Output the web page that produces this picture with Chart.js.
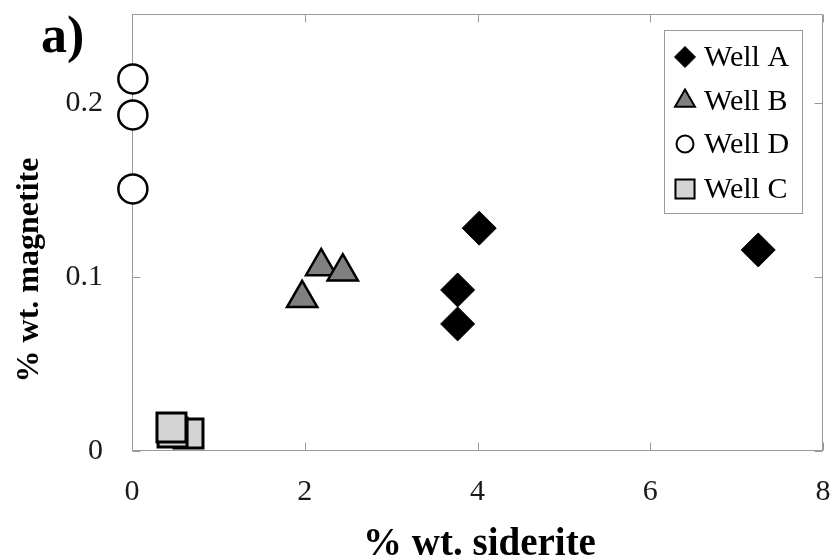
<!DOCTYPE html>
<html>
<head>
<meta charset="utf-8">
<script src="https://cdn.jsdelivr.net/npm/chart.js@4/dist/chart.umd.min.js"></script>
<style>
  html, body { margin: 0; padding: 0; background: #ffffff; }
  #wrap { width: 836px; height: 559px; }
</style>
</head>
<body>
<div id="wrap"><canvas id="c" width="836" height="559"></canvas></div>
<script>
// ---- data ----
const seriesNames = ['Well A', 'Well B', 'Well D', 'Well C'];
const wellA_x = [4.02, 3.77, 3.77, 7.25];
const wellA_y = [0.128, 0.0925, 0.073, 0.1155];
const wellB_x = [2.19, 2.44, 1.97];
const wellB_y = [0.106, 0.103, 0.0877];
const wellD_x = [0.01, 0.01, 0.01];
const wellD_y = [0.2137, 0.193, 0.1505];
const wellC_x = [0.654, 0.47, 0.457];
const wellC_y = [0.010, 0.0106, 0.0135];
const xTicks = [0, 2, 4, 6, 8];
const xTickLabels = ['0', '2', '4', '6', '8'];
const yTicks = [0, 0.1, 0.2];
const yTickLabels = ['0', '0.1', '0.2'];
const xTitle = '% wt. siderite';
const yTitle = '% wt. magnetite';
const panelLabel = 'a)';

const pts = (xs, ys) => xs.map((v, i) => ({ x: v, y: ys[i] }));

const styles = {
  'Well A': { pointStyle: 'rectRot', radius: 17, bg: '#000000', border: '#000000', bw: 1 },
  'Well B': { pointStyle: 'triangle', radius: 17.5, bg: '#808080', border: '#000000', bw: 2.5 },
  'Well D': { pointStyle: 'circle', radius: 14.5, bg: '#ffffff', border: '#000000', bw: 2.5 },
  'Well C': { pointStyle: 'rect', radius: 20.5, bg: '#d4d4d4', border: '#000000', bw: 3 }
};
const legendStyles = {
  'Well A': { radius: 10.5, bw: 1 },
  'Well B': { radius: 11.5, bw: 2 },
  'Well D': { radius: 8.5, bw: 2 },
  'Well C': { radius: 13.5, bw: 2 }
};

const seriesData = {
  'Well A': pts(wellA_x, wellA_y),
  'Well B': pts(wellB_x, wellB_y),
  'Well D': pts(wellD_x, wellD_y),
  'Well C': pts(wellC_x, wellC_y)
};

const datasets = seriesNames.map(n => ({
  label: n,
  data: seriesData[n],
  pointStyle: styles[n].pointStyle,
  pointRadius: styles[n].radius,
  pointHoverRadius: styles[n].radius,
  backgroundColor: styles[n].bg,
  borderColor: styles[n].border,
  pointBorderWidth: styles[n].bw,
  showLine: false,
  clip: false
}));

function drawMarker(ctx, style, r, x, y, bw) {
  ctx.beginPath();
  if (style === 'rectRot') {
    ctx.moveTo(x, y - r); ctx.lineTo(x + r, y); ctx.lineTo(x, y + r); ctx.lineTo(x - r, y); ctx.closePath();
  } else if (style === 'triangle') {
    const a = 2 * Math.PI / 3;
    ctx.moveTo(x, y - r);
    ctx.lineTo(x + Math.sin(a) * r, y - Math.cos(a) * r);
    ctx.lineTo(x + Math.sin(2 * a) * r, y - Math.cos(2 * a) * r);
    ctx.closePath();
  } else if (style === 'circle') {
    ctx.arc(x, y, r, 0, Math.PI * 2);
  } else {
    const s = Math.SQRT1_2 * r;
    ctx.rect(x - s, y - s, 2 * s, 2 * s);
  }
  ctx.fill();
  ctx.lineWidth = bw;
  ctx.stroke();
}

const frameColor = '#9a9a9a';
const SERIF = '"Liberation Serif", "Times New Roman", serif';

const decor = {
  id: 'decor',
  beforeDatasetsDraw(chart) {
    const { ctx, chartArea: a, scales: { x, y } } = chart;
    ctx.save();
    ctx.strokeStyle = frameColor;
    ctx.lineWidth = 1;
    const L = Math.round(a.left) + 0.5, R = Math.round(a.right) - 0.5;
    const T = Math.round(a.top) + 0.5, B = Math.round(a.bottom) - 0.5;
    ctx.strokeRect(L, T, R - L, B - T);
    const tl = 8;
    ctx.beginPath();
    xTicks.forEach(v => {
      const px = Math.round(x.getPixelForValue(v)) + 0.5;
      ctx.moveTo(px, B); ctx.lineTo(px, B - tl);
      ctx.moveTo(px, T); ctx.lineTo(px, T + tl);
    });
    yTicks.forEach(v => {
      const py = Math.round(y.getPixelForValue(v)) + 0.5;
      ctx.moveTo(L, py); ctx.lineTo(L + tl, py);
      ctx.moveTo(R, py); ctx.lineTo(R - tl, py);
    });
    ctx.stroke();
    ctx.restore();
  },
  afterDraw(chart) {
    const { ctx, chartArea: a, scales: { x, y } } = chart;
    ctx.save();
    // tick labels
    ctx.fillStyle = '#1a1a1a';
    ctx.font = '30px ' + SERIF;
    ctx.textAlign = 'center';
    ctx.textBaseline = 'middle';
    xTicks.forEach((v, i) => {
      ctx.fillText(xTickLabels[i], x.getPixelForValue(v), a.bottom + 41);
    });
    ctx.textAlign = 'right';
    yTicks.forEach((v, i) => {
      ctx.fillText(yTickLabels[i], a.left - 29, y.getPixelForValue(v));
    });
    // axis titles
    ctx.fillStyle = '#000000';
    ctx.font = 'bold 39px ' + SERIF;
    ctx.textAlign = 'center';
    ctx.textBaseline = 'middle';
    ctx.fillText(xTitle, (a.left + a.right) / 2 + 2, a.bottom + 94);
    ctx.save();
    ctx.translate(30, 270);
    ctx.rotate(-Math.PI / 2);
    ctx.font = 'bold 32px ' + SERIF;
    ctx.fillText(yTitle, 0, 0);
    ctx.restore();
    // panel label
    ctx.font = 'bold 52px ' + SERIF;
    ctx.textAlign = 'left';
    ctx.textBaseline = 'alphabetic';
    ctx.fillText(panelLabel, 41, 52);
    // legend
    const lx = 664, ly = 30, lw = 138, lh = 183;
    ctx.fillStyle = '#ffffff';
    ctx.fillRect(lx, ly, lw, lh);
    ctx.strokeStyle = frameColor;
    ctx.lineWidth = 1;
    ctx.strokeRect(lx + 0.5, ly + 0.5, lw, lh);
    const rowY = [57, 101, 144, 189];
    seriesNames.forEach((n, i) => {
      const s = styles[n];
      ctx.fillStyle = s.bg;
      ctx.strokeStyle = s.border;
      drawMarker(ctx, s.pointStyle, legendStyles[n].radius, 685, rowY[i], legendStyles[n].bw);
      ctx.fillStyle = '#000000';
      ctx.font = '30px ' + SERIF;
      ctx.textAlign = 'left';
      ctx.textBaseline = 'middle';
      ctx.fillText(n, 704, rowY[i] + 1);
    });
    ctx.restore();
  }
};

new Chart(document.getElementById('c'), {
  type: 'scatter',
  data: { datasets },
  options: {
    responsive: false,
    animation: false,
    events: [],
    layout: { autoPadding: false, padding: { left: 132, top: 14, right: 13, bottom: 108 } },
    plugins: { legend: { display: false }, tooltip: { enabled: false } },
    scales: {
      x: {
        type: 'linear', min: 0, max: 8, display: false,
        afterBuildTicks: s => { s.ticks = xTicks.map(v => ({ value: v })); }
      },
      y: {
        type: 'linear', min: 0, max: 0.251, display: false,
        afterBuildTicks: s => { s.ticks = yTicks.map(v => ({ value: v })); }
      }
    }
  },
  plugins: [decor]
});
</script>
</body>
</html>
